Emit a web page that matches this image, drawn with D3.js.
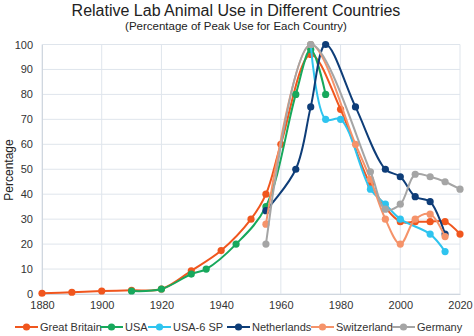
<!DOCTYPE html>
<html><head><meta charset="utf-8">
<script src="https://cdn.jsdelivr.net/npm/d3@7"></script>
<style>body{margin:0;background:#fff;}svg{display:block;font-family:"Liberation Sans",Arial,sans-serif;}</style>
</head><body><svg id="c" width="474" height="336"></svg>
<script>
const seriesNames = ["Great Britain","USA","USA-6 SP","Netherlands","Switzerland","Germany"];
const seriesColors = ["#f0561e","#17a85c","#2ec4ef","#0e3d78","#f5936a","#a5a5a5"];
const gbYears = [1880,1890,1900,1910,1920,1930,1940,1950,1955,1960,1970,1980,1990,2000,2005,2010,2015,2020];
const gbValues = [0.3,0.7,1.2,1.5,2,9.3,17.4,30,40,60,96,74,44,29,29,29,29,24];
const usaYears = [1910,1920,1930,1935,1945,1955,1965,1970,1975];
const usaValues = [1.2,2,8,10,20,35,80,98,80];
const usa6Years = [1970,1975,1980,1990,1995,2000,2010,2015];
const usa6Values = [100,70,70,42,36,30,24,17];
const nlYears = [1955,1965,1970,1975,1985,1995,2000,2005,2010,2015];
const nlValues = [33.4,50,75,100,75,50,47,39,37,24];
const chYears = [1955,1970,1985,1990,1995,2000,2005,2010,2015];
const chValues = [28,100,60,46,30,20,30,32,23];
const deYears = [1955,1970,1990,1995,2000,2005,2010,2015,2020];
const deValues = [20,100,49,34,36,48,47,45,42];
const xTicks = [1880,1900,1920,1940,1960,1980,2000,2020];
const yTicks = [0,10,20,30,40,50,60,70,80,90,100];

const series = [
  {name:seriesNames[0],color:seriesColors[0],years:gbYears,values:gbValues},
  {name:seriesNames[1],color:seriesColors[1],years:usaYears,values:usaValues},
  {name:seriesNames[2],color:seriesColors[2],years:usa6Years,values:usa6Values},
  {name:seriesNames[3],color:seriesColors[3],years:nlYears,values:nlValues},
  {name:seriesNames[4],color:seriesColors[4],years:chYears,values:chValues},
  {name:seriesNames[5],color:seriesColors[5],years:deYears,values:deValues}
];

const svg = d3.select("#c");
const L=42,R=460,T=44.5,B=294;
const x = d3.scaleLinear().domain([1880,2020]).range([L,R]);
const y = d3.scaleLinear().domain([0,100]).range([B,T]);

svg.append("text").attr("x",236).attr("y",16).attr("text-anchor","middle")
  .attr("font-size",16).attr("fill","#222").text("Relative Lab Animal Use in Different Countries");
svg.append("text").attr("x",236).attr("y",29.5).attr("text-anchor","middle")
  .attr("font-size",11.5).attr("fill","#222").text("(Percentage of Peak Use for Each Country)");

const g = svg.append("g");
g.selectAll(".hg").data(yTicks).enter().append("line")
  .attr("x1",L).attr("x2",R).attr("y1",d=>y(d)).attr("y2",d=>y(d))
  .attr("stroke","#dfe5ec").attr("stroke-width",1);
g.selectAll(".vg").data(xTicks).enter().append("line")
  .attr("x1",d=>x(d)).attr("x2",d=>x(d)).attr("y1",T).attr("y2",B)
  .attr("stroke","#dfe5ec").attr("stroke-width",1);

const xa = svg.append("g").attr("transform",`translate(0,${B})`)
  .call(d3.axisBottom(x).tickValues(xTicks).tickFormat(d3.format("d")).tickSize(0).tickPadding(7));
xa.select(".domain").attr("stroke","#d0d7df");
xa.selectAll("text").attr("font-size",11).attr("fill","#333").attr("font-family","Liberation Sans, Arial, sans-serif");
const ya = svg.append("g").attr("transform",`translate(${L},0)`)
  .call(d3.axisLeft(y).tickValues(yTicks).tickSize(0).tickPadding(9));
ya.select(".domain").attr("stroke","#d0d7df");
ya.selectAll("text").attr("font-size",11).attr("fill","#333").attr("font-family","Liberation Sans, Arial, sans-serif");

svg.append("text").attr("transform","translate(13,170) rotate(-90)").attr("text-anchor","middle")
  .attr("font-size",12).attr("fill","#222").text("Percentage");

const line = d3.line().x(d=>x(d[0])).y(d=>y(d[1])).curve(d3.curveCatmullRom.alpha(0.5));
series.forEach(s=>{
  const pts = s.years.map((yr,i)=>[yr,s.values[i]]);
  const sg = svg.append("g");
  sg.append("path").attr("d",line(pts)).attr("fill","none").attr("stroke",s.color).attr("stroke-width",2);
  sg.selectAll("circle").data(pts).enter().append("circle")
    .attr("cx",d=>x(d[0])).attr("cy",d=>y(d[1])).attr("r",3.6).attr("fill",s.color);
});

const legX = [15,100,148,227,311,392];
const lg = svg.append("g").attr("transform","translate(0,327)");
series.forEach((s,i)=>{
  const it = lg.append("g").attr("transform",`translate(${legX[i]},0)`);
  it.append("line").attr("x1",0).attr("x2",23).attr("y1",0).attr("y2",0).attr("stroke",s.color).attr("stroke-width",2);
  it.append("circle").attr("cx",11.5).attr("cy",0).attr("r",3.6).attr("fill",s.color);
  it.append("text").attr("x",25).attr("y",4).attr("font-size",11).attr("fill","#333").text(s.name);
});
</script></body></html>
